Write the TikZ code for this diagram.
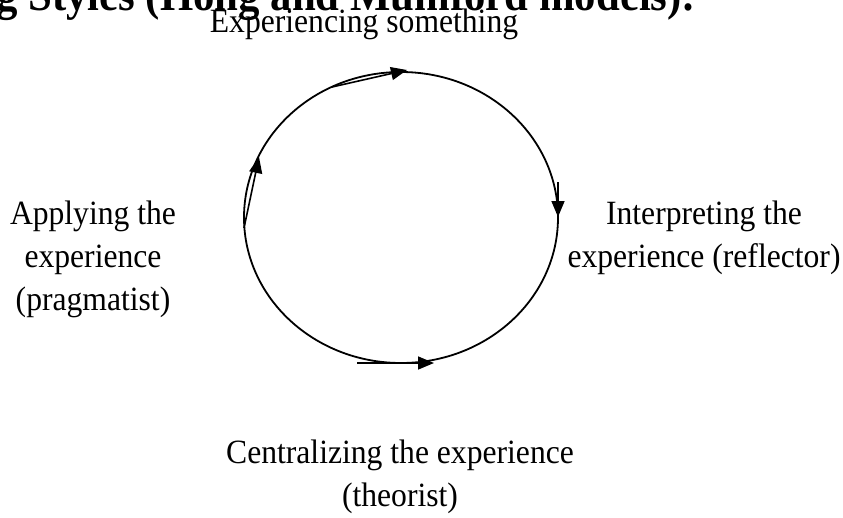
\documentclass[tikz,border=0pt]{standalone}
\usepackage{fontspec}
\setmainfont[FakeStretch=0.93]{Liberation Serif}
\usetikzlibrary{arrows.meta,positioning,shapes.geometric}
\tikzset{
  stage/.style={font=\fontsize{34}{43}\selectfont, align=center, inner sep=0pt},
  turn/.style={-{Triangle[length=16pt,width=13pt]}, line width=1.6pt}, % arrows on the cycle
}

\begin{document}
\begin{tikzpicture}[x=1pt,y=-1pt]
  \useasboundingbox (0,0) rectangle (843,517);
  \node[anchor=base west, inner sep=0pt, font=\fontsize{46}{50}\selectfont\bfseries] (title) at (-4,10) {g Styles (Hong and Mumford models):};
  % the cycle
  \node[draw, ellipse, line width=1.8pt, minimum width=314pt, minimum height=291pt, inner sep=0pt] (cyc) at (401,217.5) {};
  \node[stage, anchor=base] (experience) at (364,32) {Experiencing something};
  \node[stage, anchor=base] (reflector) at (704,267) {Interpreting the\\experience (reflector)};
  \node[stage, anchor=base] (theorist) at (400,506) {Centralizing the experience\\(theorist)};
  \node[stage, anchor=base] (pragmatist) at (93,310) {Applying the\\experience\\(pragmatist)};
  % arrow segments
  \coordinate (t1) at (332,87);  \coordinate (t2) at (407,70);
  \coordinate (r1) at (558,182); \coordinate (r2) at (558,217);
  \coordinate (b1) at (357,363); \coordinate (b2) at (434,363);
  \coordinate (l1) at (244,228); \coordinate (l2) at (259,157);
  \draw[turn] (t1) -- (t2);
  \draw[turn] (r1) -- (r2);
  \draw[turn] (b1) -- (b2);
  \draw[turn] (l1) -- (l2);
\end{tikzpicture}
\end{document}
